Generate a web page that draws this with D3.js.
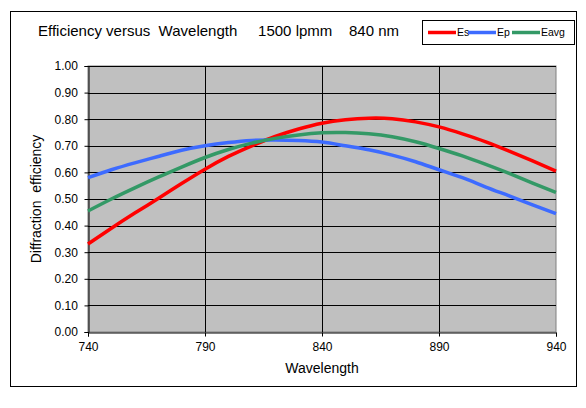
<!DOCTYPE html>
<html><head><meta charset="utf-8">
<script src="https://cdn.jsdelivr.net/npm/d3@7"></script>
<style>body{margin:0;background:#fff}svg{display:block}text{font-family:"Liberation Sans",Arial,sans-serif;fill:#000}</style>
</head><body><svg id="c" width="586" height="408"></svg>
<script>
const wavelengths = [740,750,760,770,780,790,800,810,820,830,840,850,860,870,880,890,900,910,920,930,940];
const Es   = [0.331,0.39,0.447,0.502,0.558,0.612,0.66,0.70,0.735,0.763,0.785,0.798,0.804,0.802,0.79,0.771,0.745,0.715,0.68,0.643,0.605];
const Ep   = [0.58,0.61,0.636,0.66,0.683,0.70,0.712,0.72,0.722,0.72,0.714,0.70,0.685,0.665,0.64,0.61,0.58,0.545,0.512,0.478,0.445];
const Eavg = [0.455,0.50,0.542,0.582,0.62,0.656,0.686,0.71,0.728,0.741,0.749,0.75,0.745,0.734,0.715,0.69,0.662,0.63,0.596,0.56,0.525];
const xTicks = [740,790,840,890,940];
const yTicks = [0,0.1,0.2,0.3,0.4,0.5,0.6,0.7,0.8,0.9,1.0];
const seriesNames = ["Es","Ep","Eavg"];
const seriesColors = ["#ff0000","#3d6bff","#339966"];
const seriesData = [Es,Ep,Eavg];

const svg = d3.select("#c");
const L=88,R=556,T=66,B=332;
svg.append("rect").attr("x",10.5).attr("y",11.5).attr("width",566).attr("height",375).attr("fill","#fff").attr("stroke","#000");
const x = d3.scaleLinear().domain([740,940]).range([L,R]);
const y = d3.scaleLinear().domain([0,1]).range([B,T]);
svg.append("rect").attr("x",L).attr("y",T).attr("width",R-L).attr("height",B-T).attr("fill","#c0c0c0").attr("stroke","#808080");
svg.append("g").selectAll("line").data(yTicks.slice(1)).join("line")
  .attr("x1",L).attr("x2",R).attr("y1",d=>Math.round(y(d))+0.5).attr("y2",d=>Math.round(y(d))+0.5).attr("stroke","#000");
svg.append("g").selectAll("line").data(xTicks.slice(1,-1)).join("line")
  .attr("x1",d=>Math.round(x(d))+0.5).attr("x2",d=>Math.round(x(d))+0.5).attr("y1",T).attr("y2",B).attr("stroke","#000");
const ax = svg.append("g").attr("transform",`translate(0,${B+0.5})`).call(d3.axisBottom(x).tickValues(xTicks).tickSize(4).tickFormat(d3.format("d")));
const ay = svg.append("g").attr("transform",`translate(${L+0.5},0)`).call(d3.axisLeft(y).tickValues(yTicks).tickSize(4).tickFormat(d3.format(".2f")));
[ax,ay].forEach(a=>{a.selectAll("path,line").attr("stroke","#000");a.selectAll("text").attr("font-size",12).attr("font-family","Liberation Sans, Arial");});
ax.selectAll("text").attr("dy","0.95em");
ay.selectAll("text").attr("dx","-0.3em");
const line = d3.line().curve(d3.curveNatural);
seriesData.forEach((s,i)=>{
  svg.append("path").attr("d",line(wavelengths.map((w,j)=>[x(w),y(s[j])]))).attr("fill","none")
    .attr("stroke",seriesColors[i]).attr("stroke-width",3.5).attr("stroke-linejoin","round");
});
svg.append("text").attr("x",38).attr("y",36).attr("font-size",15).style("white-space","pre")
  .text("Efficiency versus  Wavelength     1500 lpmm    840 nm");
svg.append("text").attr("x",(L+R)/2).attr("y",373).attr("text-anchor","middle").attr("font-size",14).text("Wavelength");
svg.append("text").attr("transform",`translate(41,${(T+B)/2}) rotate(-90)`).attr("text-anchor","middle").attr("font-size",14).text("Diffraction  efficiency").style("white-space","pre");
const lg = svg.append("g");
lg.append("rect").attr("x",422.5).attr("y",20.5).attr("width",152).attr("height",24).attr("fill","#fff").attr("stroke","#000");
const lx=[428,468,512];
seriesNames.forEach((n,i)=>{
  lg.append("line").attr("x1",lx[i]).attr("x2",lx[i]+28).attr("y1",32.5).attr("y2",32.5).attr("stroke",seriesColors[i]).attr("stroke-width",3.5);
  lg.append("text").attr("x",lx[i]+29).attr("y",36).attr("font-size",10.5).text(n);
});
</script></body></html>
